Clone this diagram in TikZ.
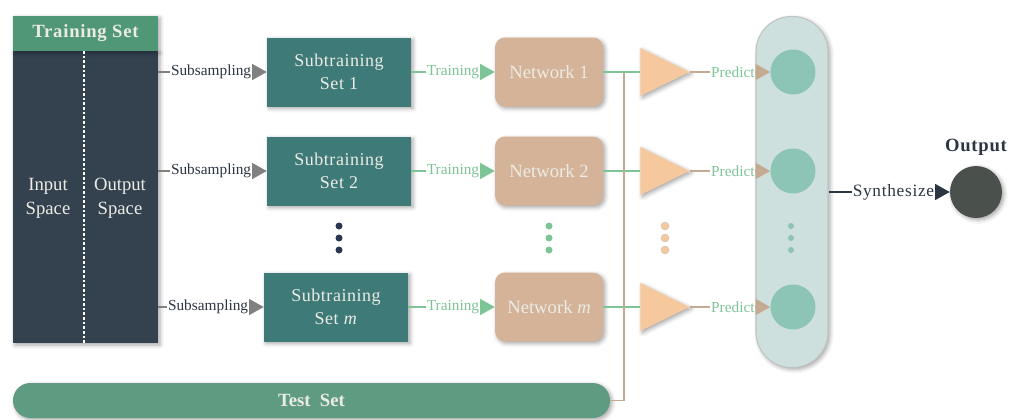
\documentclass[tikz,border=0pt]{standalone}
\usepackage{fontspec}
\setmainfont{Liberation Serif}
\usetikzlibrary{arrows.meta,shapes.geometric,shadows.blur}

\definecolor{hdrgreen}{RGB}{80,151,117}
\definecolor{paneldark}{RGB}{52,66,80}
\definecolor{subteal}{RGB}{62,122,120}
\definecolor{nettan}{RGB}{212,179,153}
\definecolor{tripeach}{RGB}{245,200,158}
\definecolor{capfill}{RGB}{206,224,221}
\definecolor{capedge}{RGB}{190,196,196}
\definecolor{circteal}{RGB}{140,197,181}
\definecolor{outdark}{RGB}{74,80,76}
\definecolor{testgreen}{RGB}{95,155,128}
\definecolor{linegreen}{RGB}{125,196,150}
\definecolor{linetan}{RGB}{196,170,145}
\definecolor{linegray}{RGB}{128,128,128}
\definecolor{textdark}{RGB}{44,54,66}
\definecolor{offwhite}{RGB}{236,236,228}
\definecolor{dotnavy}{RGB}{40,55,80}

\begin{document}
\begin{tikzpicture}[x=0.75pt,y=-0.75pt,
  shade box/.style={blur shadow={shadow xshift=1.5pt,shadow yshift=-1.5pt,shadow blur radius=3pt,shadow opacity=35}},
  header/.style={rectangle,fill=hdrgreen,minimum width=108.75pt,minimum height=26.25pt,inner sep=0pt,shade box,
    text=offwhite,font=\fontsize{14}{16}\selectfont\bfseries\addfontfeature{LetterSpace=4}},
  panel/.style={rectangle,fill=paneldark,minimum width=108.75pt,minimum height=219pt,inner sep=0pt,shade box},
  spacelbl/.style={text=offwhite,align=center,font=\fontsize{14}{18}\selectfont},
  subbox/.style={rectangle,fill=subteal,minimum width=108pt,minimum height=51.75pt,inner sep=0pt,shade box,
    text=offwhite,align=center,font=\fontsize{13.5}{17}\selectfont\addfontfeature{LetterSpace=3}},
  netbox/.style={rectangle,rounded corners=7.5pt,fill=nettan,minimum width=81pt,minimum height=51.75pt,inner sep=0pt,shade box,
    text=offwhite,align=center,font=\fontsize{14}{16}\selectfont},
  amp/.style={isosceles triangle,isosceles triangle stretches,shape border rotate=0,fill=tripeach,
    minimum width=36pt,minimum height=36.75pt,inner sep=0pt,shade box},
  capsule/.style={rectangle,rounded corners=26.5pt,fill=capfill,draw=capedge,line width=0.8pt,
    minimum width=54pt,minimum height=263.25pt,inner sep=0pt,shade box},
  vote/.style={circle,fill=circteal,minimum size=33.75pt,inner sep=0pt},
  outcirc/.style={circle,fill=outdark,minimum size=39pt,inner sep=0pt,shade box},
  testbar/.style={rectangle,rounded corners=13pt,fill=testgreen,minimum width=447.75pt,minimum height=26.25pt,inner sep=0pt,shade box,
    text=offwhite,font=\fontsize{14}{16}\selectfont\bfseries},
  dotmark/.style={circle,inner sep=0pt,minimum size=#1},
  lbl/.style={fill=white,inner sep=0.6pt,pos=1,anchor=east,xshift=-10.5pt,font=\fontsize{11.5}{13}\selectfont},
  subarrow/.style={draw=linegray,line width=1.2pt,-{Triangle[length=11pt,width=12pt]}},
  trainarrow/.style={draw=linegreen,line width=1.2pt,-{Triangle[length=11pt,width=12pt]}},
  predarrow/.style={draw=linetan,line width=1.2pt,-{Triangle[length=11pt,width=12pt]}},
  synarrow/.style={draw=textdark,line width=1.2pt,-{Triangle[length=11pt,width=12pt]}},
  feedline/.style={draw=linegreen,line width=1.2pt},
  tapline/.style={draw=linetan,line width=1.2pt},
]
\useasboundingbox (0,0) rectangle (1010,419);

% training set panel
\node[panel] (panel) at (85.5,197) {};
\node[header] (hdr) at (85.5,33.5) {Training Set};
\coordinate (divT) at (84,51);
\coordinate (divB) at (84,343);
\draw[white,line width=1pt,dash pattern=on 2pt off 1.5pt] (divT) -- (divB);
\node[spacelbl] (inlbl) at (48,198) {Input\\Space};
\node[spacelbl] (outlbl) at (120,198) {Output\\Space};

% subtraining sets
\node[subbox] (sub1) at (339,72) {Subtraining\\Set 1};
\node[subbox] (sub2) at (339,171) {Subtraining\\Set 2};
\node[subbox] (subm) at (336,307) {Subtraining\\Set \textit{m}};
\foreach \yy [count=\i] in {226,238,250}
  \node[dotmark=5.25pt,fill=dotnavy] (sd\i) at (339,\yy) {};

% networks
\node[netbox] (net1) at (549,72) {Network 1};
\node[netbox] (net2) at (549,171) {Network 2};
\node[netbox] (netm) at (549,307) {Network \textit{m}};
\foreach \yy [count=\i] in {226,238,250}
  \node[dotmark=5.25pt,fill=linegreen] (nd\i) at (549,\yy) {};

% subsampling and training arrows
\draw[subarrow] (panel.east |- sub1.west) -- node[lbl,text=textdark]{Subsampling} (sub1.west);
\draw[subarrow] (panel.east |- sub2.west) -- node[lbl,text=textdark]{Subsampling} (sub2.west);
\draw[subarrow] (panel.east |- subm.west) -- node[lbl,text=textdark]{Subsampling} (subm.west);
\draw[trainarrow] (sub1.east) -- node[lbl,text=linegreen]{Training} (net1.west);
\draw[trainarrow] (sub2.east) -- node[lbl,text=linegreen]{Training} (net2.west);
\draw[trainarrow] (subm.east) -- node[lbl,text=linegreen]{Training} (netm.west);

% predictors
\node[amp,anchor=apex] (tri1) at (690,72) {};
\node[amp,anchor=apex] (tri2) at (690,171) {};
\node[amp,anchor=apex] (trim) at (690,307) {};
\foreach \yy [count=\i] in {226,238,250}
  \node[dotmark=6pt,fill=tripeach,draw=capedge,line width=0.3pt] (td\i) at (665,\yy) {};
\draw[feedline] (net1.east) -- (tri1.lower side);
\draw[feedline] (net2.east) -- (tri2.lower side);
\draw[feedline] (netm.east) -- (trim.lower side);

% test set feeding the predictors
\node[testbar] (test) at (311.5,400.5) {Test\ \ Set};
\coordinate (tap) at (624,72);
\draw[tapline] (test.east) -| (tap);

% ensemble capsule
\node[capsule] (cap) at (792,192) {};
\node[vote] (c1) at (793,72) {};
\node[vote] (c2) at (793,171) {};
\node[vote] (cm) at (793,307) {};
\foreach \yy [count=\i] in {226,238,250}
  \node[dotmark=4.5pt,fill=circteal] (cd\i) at (791,\yy) {};
\draw[predarrow] (tri1.apex) -- node[lbl,text=linegreen]{Predict} (c1.west);
\draw[predarrow] (tri2.apex) -- node[lbl,text=linegreen]{Predict} (c2.west);
\draw[predarrow] (trim.apex) -- node[lbl,text=linegreen]{Predict} (cm.west);

% output
\node[outcirc] (out) at (976,192) {};
\node[text=textdark,font=\fontsize{14}{16}\selectfont\bfseries\addfontfeature{LetterSpace=4}] (outlabel) at (976,147) {Output};
\draw[synarrow] (cap.east) -- node[lbl,text=textdark,font=\fontsize{13}{15}\selectfont\addfontfeature{LetterSpace=4}]{Synthesize} (out.west);
\end{tikzpicture}
\end{document}
